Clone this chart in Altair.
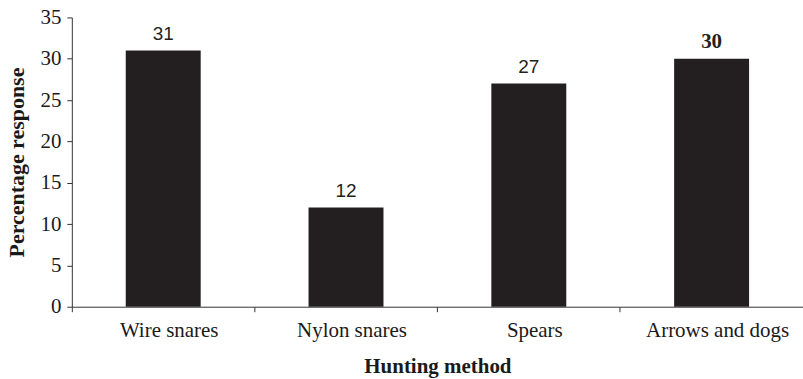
import altair as alt
import pandas as pd

# Survey responses by hunting method
methods = ["Wire snares", "Nylon snares", "Spears", "Arrows and dogs"]
responses = [31, 12, 27, 30]
bold_label = [False, False, False, True]

df = pd.DataFrame({"method": methods, "response": responses, "bold": bold_label})

x_enc = alt.X(
    "method:N",
    sort=methods,
    title="Hunting method",
    scale=alt.Scale(paddingInner=0, paddingOuter=0),
    axis=alt.Axis(
        labelAngle=0,
        bandPosition=0,
        labelOffset=6,
        tickSize=5,
        labelPadding=8,
        titlePadding=15,
        labelFont="Liberation Serif",
        labelFontSize=21,
        titleFont="Liberation Serif",
        titleFontSize=21,
        titleFontWeight="bold",
        labelColor="#1a1a1a",
        titleColor="#1a1a1a",
        domainColor="#333333",
        tickColor="#333333",
    ),
)
y_enc = alt.Y(
    "response:Q",
    title="Percentage response",
    scale=alt.Scale(domain=[0, 35], nice=False),
    axis=alt.Axis(
        values=[0, 5, 10, 15, 20, 25, 30, 35],
        grid=False,
        tickSize=5,
        labelPadding=6,
        titlePadding=11,
        labelFont="Liberation Serif",
        labelFontSize=21,
        titleFont="Liberation Serif",
        titleFontSize=22,
        titleFontWeight="bold",
        labelColor="#1a1a1a",
        titleColor="#1a1a1a",
        domainColor="#333333",
        tickColor="#333333",
    ),
)

base = alt.Chart(df).encode(x=x_enc, y=y_enc)

bars = base.mark_bar(color="#231f20", width=alt.RelativeBandSize(0.41))

labels_plain = base.transform_filter("!datum.bold").mark_text(
    baseline="bottom", dy=-7, font="Liberation Sans", fontSize=19, color="#231f20"
).encode(text="response:Q")

labels_bold = base.transform_filter("datum.bold").mark_text(
    baseline="bottom", dy=-7, font="Liberation Serif", fontSize=21,
    fontWeight="bold", color="#231f20"
).encode(text="response:Q")

chart = (
    alt.layer(bars, labels_plain, labels_bold)
    .properties(
        width=733,
        height=290,
        autosize=alt.AutoSizeParams(type="none"),
        padding={"left": 72, "top": 17, "right": 0, "bottom": 72},
        background="white",
    )
    .configure_view(stroke=None)
)

chart.save("out.html", embed_options={"renderer": "svg", "actions": False})
